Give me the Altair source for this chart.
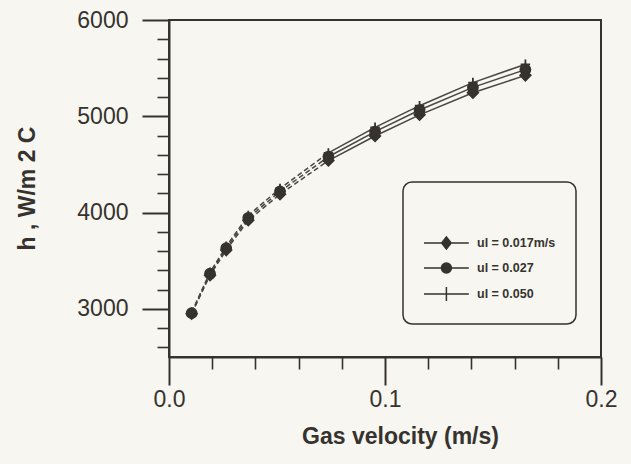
import altair as alt
import pandas as pd

# ---- data ----
x_vals = [0.0105, 0.019, 0.0265, 0.0367, 0.0514, 0.0738, 0.0954, 0.116, 0.1407, 0.165]
h_017 = [2950, 3350, 3610, 3920, 4190, 4540, 4795, 5015, 5245, 5425]
h_027 = [2955, 3365, 3630, 3945, 4220, 4580, 4840, 5065, 5300, 5485]
h_050 = [2965, 3380, 3650, 3970, 4250, 4620, 4885, 5110, 5350, 5540]
series_labels = ["ul = 0.017m/s", "ul = 0.027", "ul = 0.050"]
dash_until = 5  # segments up to this point index are drawn dashed

x_major = [0.0, 0.1, 0.2]
x_minor = [0.02, 0.04, 0.06, 0.08, 0.12, 0.14, 0.16, 0.18]
y_major = [3000, 4000, 5000, 6000]
y_minor = [2600, 2800, 3200, 3400, 3600, 3800, 4200, 4400, 4600, 4800,
           5200, 5400, 5600, 5800]

# ---- styles ----
ink = "#36322e"
line_ink = "#4a453f"
bg = "#f7f6f1"
font = "Liberation Sans"

rows = []
for lab, vals in zip(series_labels, [h_017, h_027, h_050]):
    for i, (xv, hv) in enumerate(zip(x_vals, vals)):
        rows.append({"x": xv, "h": hv, "series": lab, "idx": i})
df = pd.DataFrame(rows)
df_dashed = df[df["idx"] <= dash_until]
df_solid = df[df["idx"] >= dash_until]

xs = alt.Scale(domain=[0, 0.2], nice=False, zero=False)
ys = alt.Scale(domain=[2500, 6000], nice=False, zero=False)

plot_shapes = ["diamond", "circle", "M-1,0L1,0M0,-1L0,1"]
legend_paths = [
    "M-1,0L4.6,0M1.8,-0.75L2.4,0L1.8,0.75L1.2,0Z",
    "M-1,0L4.6,0M1.175,0A0.625,0.625 0 1,0 2.425,0A0.625,0.625 0 1,0 1.175,0Z",
    "M-1,0L4.6,0M1.8,-0.875L1.8,0.875",
]

# minor-tick axes + legend carrier (invisible marks)
legend_layer = alt.Chart(df).mark_point(
    opacity=0, filled=False, fill=ink, stroke=ink, strokeWidth=1.5
).encode(
    x=alt.X("x:Q", scale=xs, axis=alt.Axis(
        orient="bottom", offset=0, values=x_minor, tickSize=12, tickWidth=1.6,
        tickColor=ink, labels=False, domain=False, grid=False, title=None)),
    y=alt.Y("h:Q", scale=ys, axis=alt.Axis(
        orient="left", offset=0, values=y_minor, tickSize=12, tickWidth=1.6,
        tickColor=ink, labels=False, domain=False, grid=False, title=None)),
    shape=alt.Shape("series:N", scale=alt.Scale(domain=series_labels, range=legend_paths),
                    legend=alt.Legend(
                        title=" ", orient="none", legendX=234, legendY=162,
                        symbolSize=256, symbolOpacity=1,
                        symbolStrokeWidth=1.5,
                        labelOffset=36, rowPadding=7, padding=20,
                        titleFontSize=22, titlePadding=10,
                        labelFont=font, labelFontSize=12.5, labelFontWeight="bold",
                        labelColor=ink, fillColor=bg, strokeColor=ink,
                        cornerRadius=9)),
)

lines_dashed = alt.Chart(df_dashed).mark_line(
    color=line_ink, strokeWidth=1.5, strokeDash=[5, 3]
).encode(
    x=alt.X("x:Q", scale=xs, axis=alt.Axis(
        orient="bottom", offset=0, values=x_major, format=".1f", tickSize=28,
        tickWidth=2, tickColor=ink, domainColor=ink, domainWidth=2, grid=False,
        labelFont=font, labelFontSize=23, labelColor=ink, labelPadding=3,
        labelFlush=False, labelOverlap=False,
        title="Gas velocity (m/s)", titleFont=font, titleFontSize=23,
        titleFontWeight="bold", titleColor=ink, titleX=231, titleY=79,
        titleAlign="center", titleBaseline="middle")),
    y=alt.Y("h:Q", scale=ys, axis=alt.Axis(
        orient="left", offset=0, values=y_major, format="d", tickSize=27,
        tickWidth=2, tickColor=ink, domainColor=ink, domainWidth=2, grid=False,
        labelFont=font, labelFontSize=23, labelColor=ink, labelPadding=14,
        labelFlush=False, labelOverlap=False,
        title="h , W/m 2 C", titleFont=font, titleFontSize=23,
        titleFontWeight="bold", titleColor=ink, titleX=-142, titleY=168,
        titleAngle=270, titleAlign="center", titleBaseline="middle")),
    detail="series:N",
)

lines_solid = alt.Chart(df_solid).mark_line(
    color=line_ink, strokeWidth=1.5
).encode(
    x=alt.X("x:Q", scale=xs, axis=None),
    y=alt.Y("h:Q", scale=ys, axis=None),
    detail="series:N",
)

points = alt.Chart(df).mark_point(
    filled=True, color=ink, stroke=ink, strokeWidth=1.8, opacity=1
).encode(
    x=alt.X("x:Q", scale=xs, axis=None),
    y=alt.Y("h:Q", scale=ys, axis=None),
    shape=alt.Shape("series:N", scale=alt.Scale(domain=series_labels, range=plot_shapes),
                    legend=None),
    size=alt.Size("series:N", scale=alt.Scale(domain=series_labels, range=[110, 90, 200]),
                  legend=None),
)

chart = alt.layer(legend_layer, lines_dashed, lines_solid, points).resolve_axis(
    x="independent", y="independent"
).resolve_scale(
    shape="independent"
).properties(
    width=432, height=337,
    autosize=alt.AutoSizeParams(type="none"),
    padding={"left": 169, "top": 20, "right": 30, "bottom": 107},
    background=bg,
).configure_view(
    stroke=ink, strokeWidth=2
).configure_legend(
    strokeWidth=1.5
)

chart.save("out.html", embed_options={"renderer": "svg", "actions": False})
